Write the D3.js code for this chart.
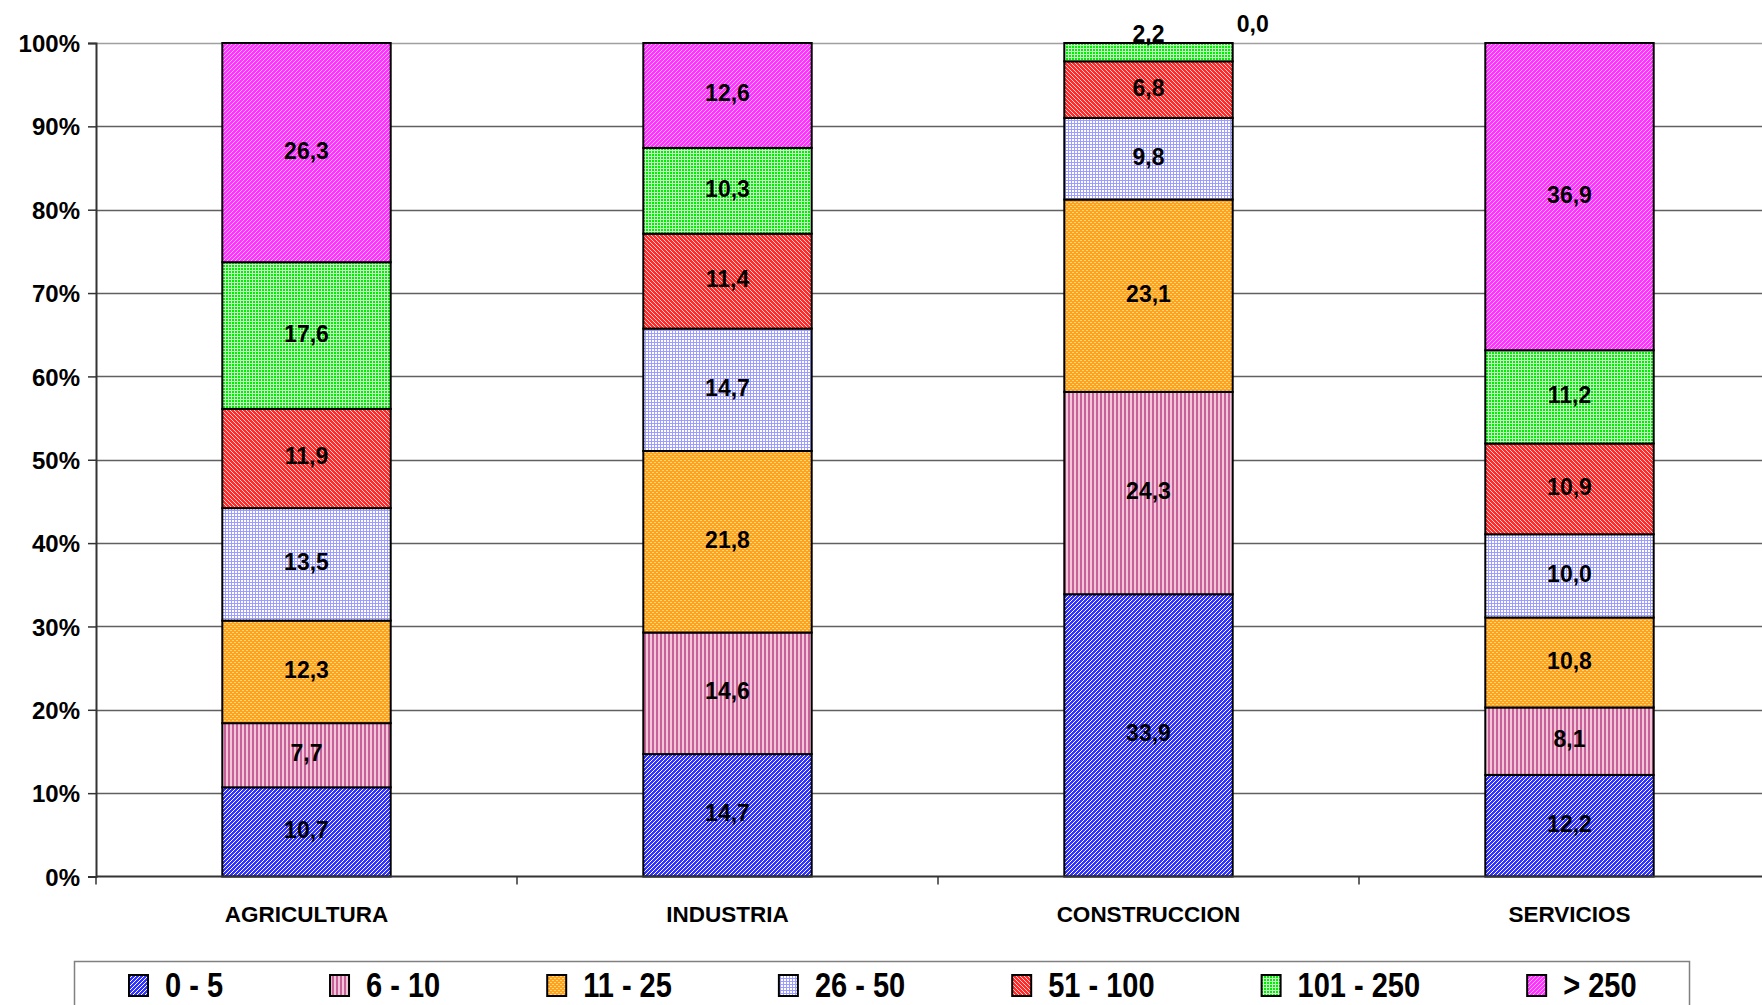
<!DOCTYPE html>
<html>
<head>
<meta charset="utf-8" />
<script src="https://d3js.org/d3.v7.min.js"></script>
<title>Empresas por tamaño</title>
<style>
  body { margin: 0; background: #fff; }
  svg text { font-family: "Liberation Sans", Arial, sans-serif; font-weight: bold; fill: #000; }
</style>
</head>
<body>
<svg id="chart"></svg>
<script>
// data
var categories = ["AGRICULTURA", "INDUSTRIA", "CONSTRUCCION", "SERVICIOS"];
var sizeClasses = ["0 - 5", "6 - 10", "11 - 25", "26 - 50", "51 - 100", "101 - 250", "> 250"];

var s0_5     = [10.7, 14.7, 33.9, 12.2];
var s6_10    = [7.7, 14.6, 24.3, 8.1];
var s11_25   = [12.3, 21.8, 23.1, 10.8];
var s26_50   = [13.5, 14.7, 9.8, 10.0];
var s51_100  = [11.9, 11.4, 6.8, 10.9];
var s101_250 = [17.6, 10.3, 2.2, 11.2];
var s250     = [26.3, 12.6, 0.0, 36.9];

var seriesValues = [s0_5, s6_10, s11_25, s26_50, s51_100, s101_250, s250];

var width = 1762, height = 1005;
var margin = {top: 43, left: 96, bottom: 128};
var plotRight = 1780;

var svg = d3.select("#chart").attr("width", width).attr("height", height);
var defs = svg.append("defs");

// patterns (excel style fills)
function pattern(id, size, bg, dots) {
  var p = defs.append("pattern").attr("id", id)
    .attr("patternUnits", "userSpaceOnUse")
    .attr("width", size).attr("height", size);
  p.append("rect").attr("width", size).attr("height", size).attr("fill", bg);
  dots.forEach(function(d) {
    p.append("rect").attr("x", d[0]).attr("y", d[1])
      .attr("width", d[2] || 1).attr("height", d[3] || 1).attr("fill", d[4]);
  });
}
pattern("p0", 4, "#3333ff", [[0,3,1,1,"#fff"],[1,2,1,1,"#fff"],[2,1,1,1,"#fff"],[3,0,1,1,"#fff"]]);
pattern("p1", 4, "#f2c6d9", [[0,0,2,4,"#c8609a"]]);
pattern("p2", 4, "#ffa31a", [[0,0,1,1,"#ffd58a"],[2,2,1,1,"#ffd58a"],[1,0,1,1,"#ffd58a"],[3,2,1,1,"#ffd58a"]]);
pattern("p3", 3, "#ffffff", [[0,0,1,3,"#9d9dff"],[0,0,3,1,"#9d9dff"]]);
pattern("p4", 4, "#ff2a2a", [[0,0,1,1,"#ffd0d0"],[1,1,1,1,"#ffd0d0"],[2,2,1,1,"#ffd0d0"],[3,3,1,1,"#ffd0d0"]]);
pattern("p5", 3, "#00ee00", [[0,0,1,3,"#c8ffc8"],[0,0,3,1,"#c8ffc8"]]);
pattern("p6", 4, "#ff33ff", [[0,3,1,1,"#ffb3ff"],[1,2,1,1,"#ffb3ff"],[2,1,1,1,"#ffb3ff"],[3,0,1,1,"#ffb3ff"]]);

var fills = sizeClasses.map(function(d, i) { return "url(#p" + i + ")"; });

var rows = categories.map(function(c, ci) {
  var r = {cat: c};
  sizeClasses.forEach(function(k, ki) { r[k] = seriesValues[ki][ci]; });
  return r;
});

var stacked = d3.stack().keys(sizeClasses).offset(d3.stackOffsetExpand)(rows);

var x = d3.scaleBand().domain(categories)
  .range([margin.left, plotRight]).paddingInner(0.6).paddingOuter(0.3);
var y = d3.scaleLinear().domain([0, 1]).range([height - margin.bottom - 0.5, margin.top]);

// gridlines
svg.append("g").selectAll("line").data(y.ticks(10).slice(1)).join("line")
  .attr("x1", margin.left).attr("x2", plotRight)
  .attr("y1", function(d) { return Math.round(y(d)) + 0.5; })
  .attr("y2", function(d) { return Math.round(y(d)) + 0.5; })
  .attr("stroke", function(d) { return d === 1 ? "#a0a0a0" : "#606060"; })
  .attr("stroke-width", 1.3);

// bars
var layers = svg.append("g").selectAll("g").data(stacked).join("g")
  .attr("fill", function(d, i) { return fills[i]; });

layers.selectAll("rect").data(function(d) { return d; }).join("rect")
  .attr("x", function(d) { return x(d.data.cat); })
  .attr("width", x.bandwidth())
  .attr("y", function(d) { return y(d[1]); })
  .attr("height", function(d) { return y(d[0]) - y(d[1]); })
  .attr("stroke", "#000").attr("stroke-width", 2);

// labels
var fmt = function(v) { return v.toFixed(1).replace(".", ","); };
layers.each(function(layer) {
  d3.select(this).selectAll("text").data(layer).join("text")
    .attr("text-anchor", "middle")
    .attr("font-size", 23)
    .attr("x", function(d) {
      var cx = x(d.data.cat) + x.bandwidth() / 2;
      return d[1] - d[0] === 0 ? cx + x.bandwidth() / 2 + 20 : cx;
    })
    .attr("y", function(d) {
      var h = y(d[0]) - y(d[1]);
      if (h === 0) return y(d[1]) - 11;
      if (h < 30) return y(d[1]) - 1;
      return (y(d[0]) + y(d[1])) / 2 + 6;
    })
    .text(function(d) { return fmt(d.data[layer.key]); });
});

// axes
var yAxis = svg.append("g").attr("transform", "translate(" + margin.left + ",0)")
  .call(d3.axisLeft(y).ticks(10).tickFormat(d3.format(".0%")).tickSize(8).tickPadding(8));
yAxis.select(".domain").attr("stroke", "#333").attr("stroke-width", 2);
yAxis.selectAll(".tick line").attr("stroke", "#333").attr("stroke-width", 1.5);
yAxis.selectAll("text").attr("font-size", 24).attr("font-family", null).attr("dy", "0.36em");

var xAxis = svg.append("g").attr("transform", "translate(0," + y(0) + ")");
xAxis.append("line").attr("x1", margin.left).attr("x2", plotRight)
  .attr("stroke", "#333").attr("stroke-width", 2);
xAxis.selectAll(".tk").data(categories).join("line").attr("class", "tk")
  .attr("x1", function(d) { return x(d) - x.step() * x.paddingOuter(); })
  .attr("x2", function(d) { return x(d) - x.step() * x.paddingOuter(); })
  .attr("y1", 0).attr("y2", 8).attr("stroke", "#333").attr("stroke-width", 1.5);
xAxis.selectAll("text").data(categories).join("text")
  .attr("x", function(d) { return x(d) + x.bandwidth() / 2; })
  .attr("y", 45).attr("text-anchor", "middle").attr("font-size", 22.5)
  .text(function(d) { return d; });

// legend
var legend = svg.append("g");
legend.append("rect").attr("x", 74.5).attr("y", 961.5).attr("width", 1615).attr("height", 80)
  .attr("fill", "none").attr("stroke", "#808080").attr("stroke-width", 1.5);

var items = legend.selectAll("g.item").data(sizeClasses).join("g").attr("class", "item");
items.append("rect").attr("width", 19).attr("height", 21).attr("y", 975)
  .attr("fill", function(d, i) { return fills[i]; })
  .attr("stroke", "#000").attr("stroke-width", 2);
items.append("text").attr("font-size", 29)
  .text(function(d) { return d; });

var gap = 36;
var pos = 129;
items.each(function(d, i) {
  var t = d3.select(this).select("text");
  var w = t.node().getComputedTextLength();
  d3.select(this).select("rect").attr("x", pos);
  t.attr("transform", "translate(" + (pos + gap) + ",997) scale(1,1.2)");
  pos += gap + w + 107;
});
</script>
</body>
</html>
